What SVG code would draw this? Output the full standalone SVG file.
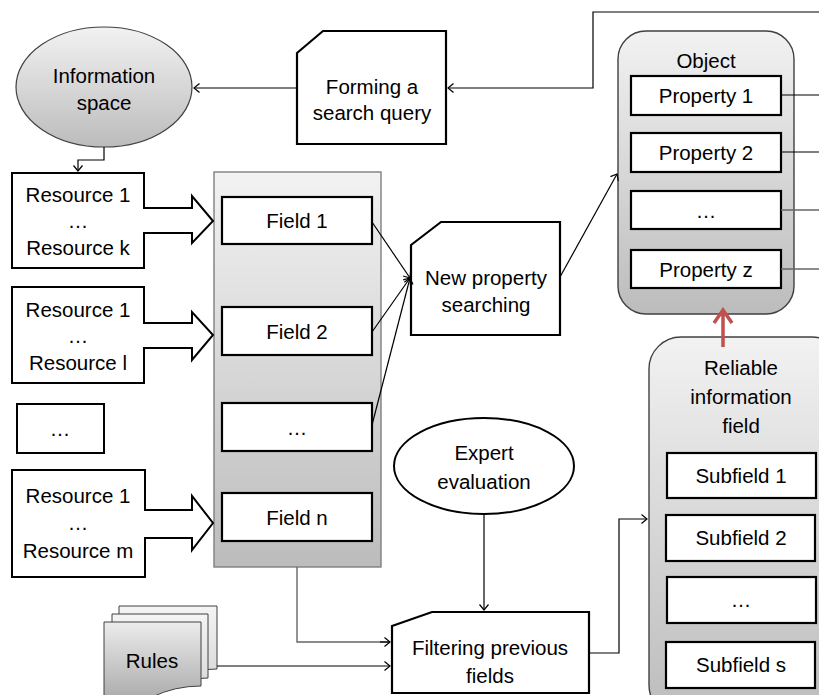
<svg xmlns="http://www.w3.org/2000/svg" width="819" height="695" viewBox="0 0 819 695">
<defs>
<linearGradient id="g" x1="0" y1="0" x2="0" y2="1"><stop offset="0" stop-color="#f2f2f2"/><stop offset="1" stop-color="#bcbcbc"/></linearGradient>
<linearGradient id="gl" x1="0" y1="0" x2="0" y2="1"><stop offset="0" stop-color="#f4f4f4"/><stop offset="1" stop-color="#d6d6d6"/></linearGradient>
<linearGradient id="gr" x1="0" y1="0" x2="0" y2="1"><stop offset="0" stop-color="#ececec"/><stop offset="1" stop-color="#a8a8a8"/></linearGradient>
<marker id="a" markerUnits="userSpaceOnUse" markerWidth="8" markerHeight="12" refX="6" refY="5" orient="auto"><path d="M0.5,0.5 L6,5 L0.5,9.5" fill="none" stroke="#000" stroke-width="1.2"/></marker>
<style>
text{font-family:"Liberation Sans",Arial,sans-serif;font-size:20.5px;fill:#000;text-anchor:middle}
.box{fill:#fff;stroke:#000;stroke-width:2.2}
.c{fill:none;stroke:#000;stroke-width:1.2}
.cg{fill:none;stroke:#666;stroke-width:1.4}
.blk{fill:#fff;stroke:#000;stroke-width:2}
.blkf{fill:#fff;stroke:none}
</style>
</defs>

<g id="information-space">
<ellipse cx="104" cy="87" rx="88" ry="60" fill="url(#g)" stroke="#404040" stroke-width="1.2"/>
<text x="104" y="83">Information</text>
<text x="104" y="110">space</text>
</g>

<g id="forming-query">
<path class="box" d="M297,53 L323,31 H446 V144 H297 Z"/>
<text x="372" y="94">Forming a</text>
<text x="372" y="120">search query</text>
</g>

<g id="object">
<rect x="618" y="31" width="176" height="283" rx="28" fill="url(#g)" stroke="#404040" stroke-width="1.4"/>
<text x="706" y="68">Object</text>
<rect class="box" x="631" y="76" width="150" height="39"/>
<text x="706" y="103">Property 1</text>
<rect class="box" x="631" y="133" width="150" height="39"/>
<text x="706" y="160">Property 2</text>
<rect class="box" x="631" y="191" width="150" height="38"/>
<text x="706" y="218">…</text>
<rect class="box" x="631" y="250" width="150" height="38"/>
<text x="706" y="277">Property z</text>
</g>

<g id="reliable-field">
<rect x="649" y="337" width="195" height="380" rx="32" fill="url(#g)" stroke="#404040" stroke-width="1.4"/>
<text x="741" y="375">Reliable</text>
<text x="741" y="404">information</text>
<text x="741" y="433">field</text>
<rect class="box" x="667" y="453" width="149" height="45"/>
<text x="741" y="483">Subfield 1</text>
<rect class="box" x="666" y="515" width="149" height="46"/>
<text x="741" y="545">Subfield 2</text>
<rect class="box" x="667" y="577" width="149" height="46"/>
<text x="741" y="607">…</text>
<rect class="box" x="666" y="642" width="149" height="46"/>
<text x="741" y="672">Subfield s</text>
</g>

<g id="fields">
<rect x="214" y="172" width="167" height="395" fill="url(#g)" stroke="#7f7f7f" stroke-width="1.4"/>
<rect class="box" x="222" y="197" width="150" height="47"/>
<text x="297" y="228">Field 1</text>
<rect class="box" x="222" y="307" width="150" height="48"/>
<text x="297" y="339">Field 2</text>
<rect class="box" x="222" y="403" width="150" height="48"/>
<text x="297" y="435">…</text>
<rect class="box" x="222" y="493" width="150" height="48"/>
<text x="297" y="525">Field n</text>
</g>

<g id="new-property">
<path class="box" d="M411,245 L441,222 H560 V335 H411 Z"/>
<text x="486" y="285">New property</text>
<text x="486" y="312">searching</text>
</g>

<g id="expert">
<ellipse cx="484" cy="466" rx="90" ry="48" fill="#fff" stroke="#000" stroke-width="2"/>
<text x="484" y="460">Expert</text>
<text x="484" y="489">evaluation</text>
</g>

<g id="filtering">
<path class="box" d="M392,626 L432,612 H589 V693 H392 Z"/>
<text x="490" y="655">Filtering previous</text>
<text x="490" y="683">fields</text>
</g>

<g id="resources-k">
<rect x="12" y="173" width="132" height="95" fill="#fff" stroke="#000" stroke-width="2"/>
<text x="78" y="202">Resource 1</text>
<text x="78" y="228">…</text>
<text x="78" y="255">Resource k</text>
</g>
<g id="resources-l">
<rect x="12" y="287" width="132" height="96" fill="#fff" stroke="#000" stroke-width="2"/>
<text x="78" y="317">Resource 1</text>
<text x="78" y="343">…</text>
<text x="78" y="370">Resource l</text>
</g>
<g id="resources-dots">
<rect x="17" y="404" width="87" height="49" fill="#fff" stroke="#000" stroke-width="2"/>
<text x="60" y="436">…</text>
</g>
<g id="resources-m">
<rect x="12" y="470" width="133" height="107" fill="#fff" stroke="#000" stroke-width="2"/>
<text x="78" y="503">Resource 1</text>
<text x="78" y="530">…</text>
<text x="78" y="558">Resource m</text>
</g>

<g id="rules">
<path d="M119,606 H217 V669 Q190,669 168,680 Q145,690 119,684 Z" fill="url(#gl)" stroke="#404040" stroke-width="1"/>
<path d="M112,614 H208 V678 Q182,678 160,689 Q137,699 112,693 Z" fill="url(#gl)" stroke="#404040" stroke-width="1"/>
<path d="M104,622 H201 V686 Q175,686 152,697 Q128,707 104,701 Z" fill="url(#gr)" stroke="#404040" stroke-width="1"/>
<text x="152" y="668">Rules</text>
</g>

<g id="connectors">
<path class="c" d="M297,88 H194" marker-end="url(#a)"/>
<path class="c" d="M104,147 V160 H78 V171" marker-end="url(#a)"/>
<path class="c" d="M819,12 H593 V88 H448" marker-end="url(#a)"/>
<path class="c" d="M781,95 H819"/>
<path class="c" d="M781,152 H819"/>
<path class="cg" d="M781,210 H819"/>
<path class="cg" d="M781,269 H819"/>
<path class="c" d="M372,222 L410,278" marker-end="url(#a)"/>
<path class="c" d="M372,332 L410,278" marker-end="url(#a)"/>
<path class="c" d="M372,425 L410,278" marker-end="url(#a)"/>
<path class="c" d="M560,277 L617,174" marker-end="url(#a)"/>
<path class="c" d="M484,514 V610" marker-end="url(#a)"/>
<path class="cg" d="M297,567 V642 H390"/>
<path class="c" d="M380,642 H390" marker-end="url(#a)"/>
<path class="c" d="M217,666 H390" marker-end="url(#a)"/>
<path class="c" d="M589,653 H619 V519 H647" marker-end="url(#a)"/>
<path d="M723,347 V312 M714,323 L723,310 L732,323" fill="none" stroke="#c0504d" stroke-width="3.5"/>
<path class="blkf" d="M142,209 H146 V232 H142 Z"/>
<path class="blk" d="M144,208 H192 V196 L213,221 L192,243 V233 H144"/>
<path class="blkf" d="M142,324 H146 V347 H142 Z"/>
<path class="blk" d="M144,323 H192 V312 L213,335 L192,360 V348 H144"/>
<path class="blkf" d="M143,511 H147 V537 H143 Z"/>
<path class="blk" d="M145,510 H192 V496 L213,523 L192,550 V538 H145"/>
</g>
</svg>
